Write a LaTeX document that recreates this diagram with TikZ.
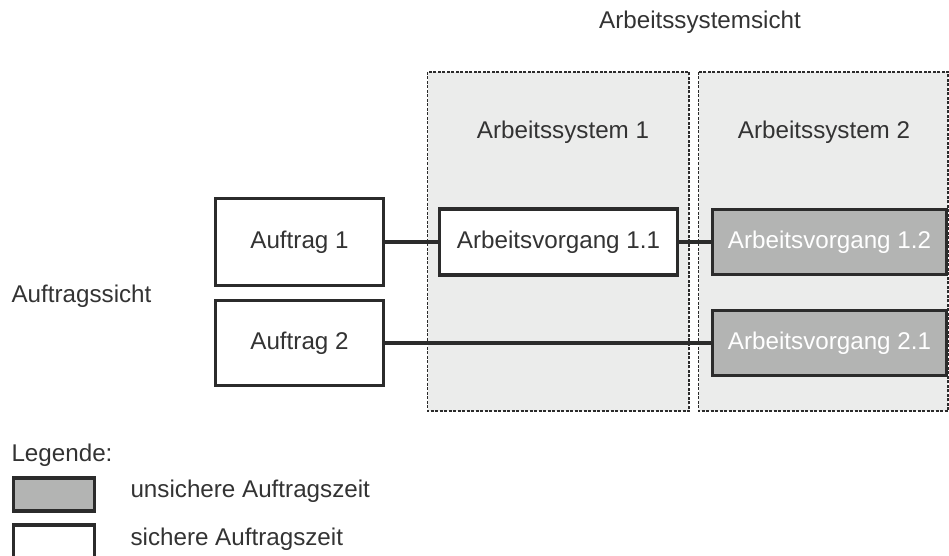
\documentclass[tikz,border=0pt]{standalone}
\usepackage{fontspec}
\setmainfont{Liberation Sans}
\definecolor{syshell}{HTML}{EBECEB}
\definecolor{opgrey}{HTML}{B3B4B3}
\definecolor{edge}{HTML}{2B2B2B}
\definecolor{ink}{HTML}{333333}
\begin{document}
\begin{tikzpicture}[x=1pt,y=-1pt,
  every node/.style={font=\fontsize{24.2}{28}\selectfont, text=ink},
  sysarea/.style={fill=syshell, draw=edge, line width=1.7pt, dash pattern=on 3pt off 1.5pt},
  opbox/.style={draw=edge, line width=3.2pt, fill=white, inner sep=0pt},
  unsafe/.style={opbox, fill=opgrey, text=white},
  link/.style={draw=edge, line width=3.6pt}]
  \useasboundingbox (0,0) rectangle (949,556);

  % work system areas
  \path[sysarea] (427.5,72) rectangle (689,411);
  \path[sysarea] (698.5,72) rectangle (948.3,411);
  \node (syshead) at (700,22) {Arbeitssystemsicht};
  \node (sys1) at (563,132) {Arbeitssystem 1};
  \node (sys2) at (824,132) {Arbeitssystem 2};

  % orders
  \node (ordview) [anchor=west] at (8,296) {Auftragssicht};
  \node[opbox, minimum width=168pt, minimum height=87pt] (a1) at (299.5,242) {Auftrag 1};
  \node[opbox, minimum width=168pt, minimum height=85pt] (a2) at (299.5,343) {Auftrag 2};

  % operations
  \node[opbox, minimum width=238pt, minimum height=66pt] (v11) at (558.5,242) {Arbeitsvorgang 1.1};
  \node[unsafe, minimum width=234pt, minimum height=65pt] (v12) at (829.5,242) {Arbeitsvorgang 1.2};
  \node[unsafe, minimum width=234pt, minimum height=65pt] (v21) at (829.5,343) {Arbeitsvorgang 2.1};

  \draw[link] (a1) -- (v11);
  \draw[link] (v11) -- (v12);
  \draw[link] (a2) -- (v21);

  % legend
  \node (leg) [anchor=west] at (8,455) {Legende:};
  \node[unsafe, minimum width=81pt, minimum height=33pt] (kunsafe) at (54,494.5) {};
  \node[opbox, minimum width=81pt, minimum height=33pt] (ksafe) at (54,541.5) {};
  \node (tunsafe) [anchor=west] at (127,491) {unsichere Auftragszeit};
  \node (tsafe) [anchor=west] at (127,539) {sichere Auftragszeit};
\end{tikzpicture}
\end{document}
